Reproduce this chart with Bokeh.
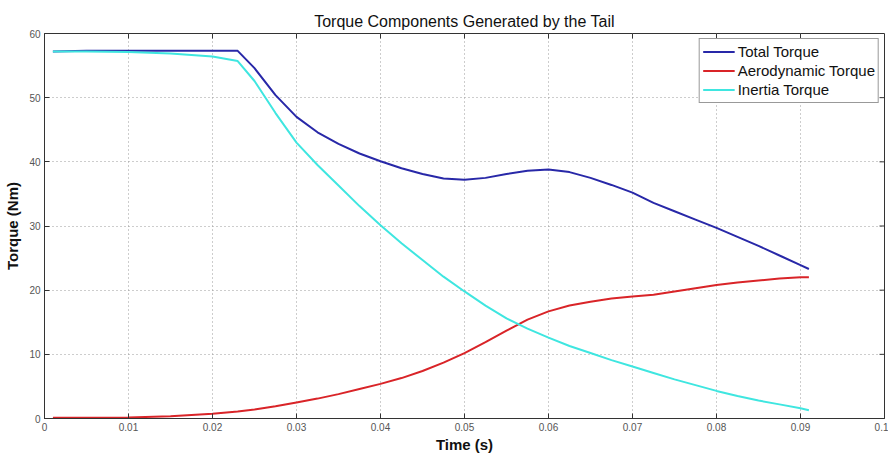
from bokeh.plotting import figure
from bokeh.models import FixedTicker, Legend, LegendItem, Title
from bokeh.embed import file_html
from bokeh.resources import INLINE

t = [0.001, 0.005, 0.01, 0.015, 0.02, 0.023, 0.025, 0.0275, 0.03, 0.0325, 0.035, 0.0375,
     0.04, 0.0425, 0.045, 0.0475, 0.05, 0.0525, 0.055, 0.0575, 0.06, 0.0625, 0.065, 0.0675,
     0.07, 0.0725, 0.075, 0.0775, 0.08, 0.0825, 0.085, 0.0875, 0.09, 0.091]
total_torque = [57.2, 57.3, 57.3, 57.3, 57.3, 57.3, 54.6, 50.4, 47.0, 44.6, 42.8, 41.3,
                40.1, 39.0, 38.1, 37.4, 37.2, 37.5, 38.1, 38.6, 38.8, 38.4, 37.5, 36.4,
                35.2, 33.6, 32.3, 31.0, 29.7, 28.3, 26.9, 25.4, 23.9, 23.3]
aero_torque = [0.1, 0.1, 0.15, 0.35, 0.75, 1.1, 1.4, 1.9, 2.5, 3.1, 3.8, 4.6,
               5.4, 6.3, 7.4, 8.7, 10.2, 11.9, 13.7, 15.4, 16.7, 17.6, 18.2, 18.7,
               19.0, 19.3, 19.8, 20.3, 20.8, 21.2, 21.5, 21.8, 22.0, 22.0]
inertia_torque = [57.2, 57.2, 57.1, 56.9, 56.4, 55.7, 52.6, 47.6, 43.0, 39.5, 36.3, 33.1,
                  30.1, 27.3, 24.7, 22.1, 19.8, 17.6, 15.6, 14.0, 12.6, 11.3, 10.2, 9.1,
                  8.1, 7.1, 6.1, 5.2, 4.3, 3.5, 2.8, 2.2, 1.6, 1.3]

x_ticks = [0, 0.01, 0.02, 0.03, 0.04, 0.05, 0.06, 0.07, 0.08, 0.09, 0.1]
x_tick_labels = ["0", "0.01", "0.02", "0.03", "0.04", "0.05", "0.06", "0.07", "0.08", "0.09", "0.1"]
y_ticks = [0, 10, 20, 30, 40, 50, 60]
series_names = ["Total Torque", "Aerodynamic Torque", "Inertia Torque"]

FONT = "Liberation Sans"
W, H = 888, 455
ML, MR, MT, MB = 44, 4, 33, 37
TICK_PX = 5

x_lo, x_hi = x_ticks[0], x_ticks[-1]
y_lo, y_hi = y_ticks[0], y_ticks[-1]

p = figure(width=W, height=H, x_range=(x_lo, x_hi), y_range=(y_lo, y_hi),
           output_backend="svg", toolbar_location=None,
           min_border_left=ML, min_border_right=MR, min_border_top=MT, min_border_bottom=MB)
p.title = Title(text="Torque Components Generated by the Tail", align="center",
                text_font=FONT, text_font_size="16px", text_font_style="normal",
                text_color="#111111", standoff=7)
p.background_fill_color = "white"
p.border_fill_color = "white"
p.outline_line_color = "#333333"
p.outline_line_width = 1

for ax in (p.xaxis[0], p.yaxis[0]):
    ax.major_tick_in = TICK_PX
    ax.major_tick_out = 0
    ax.minor_tick_in = 0
    ax.minor_tick_out = 0
    ax.axis_line_color = "#333333"
    ax.major_tick_line_color = "#333333"
    ax.major_label_text_font = FONT
    ax.major_label_text_font_size = "10px"
    ax.major_label_text_color = "#555555"
    ax.axis_label_text_font = FONT
    ax.axis_label_text_font_size = "15px"
    ax.axis_label_text_font_style = "bold"
    ax.axis_label_text_color = "#111111"

p.xaxis[0].ticker = FixedTicker(ticks=x_ticks)
p.xaxis[0].major_label_overrides = {v: s for v, s in zip(x_ticks, x_tick_labels)}
p.xaxis[0].axis_label = "Time (s)"
p.xaxis[0].axis_label_standoff = 2
p.xaxis[0].major_label_standoff = 4
p.yaxis[0].ticker = FixedTicker(ticks=y_ticks)
p.yaxis[0].axis_label = "Torque (Nm)"
p.yaxis[0].axis_label_standoff = 5
p.yaxis[0].major_label_standoff = 4

# top and right inward ticks (MATLAB box style)
frame_w = W - ML - MR
frame_h = H - MT - MB
dy = TICK_PX * (y_hi - y_lo) / frame_h
dx = TICK_PX * (x_hi - x_lo) / frame_w
inner_x = x_ticks[1:-1]
inner_y = y_ticks[1:-1]
p.segment(x0=inner_x, y0=[y_hi] * len(inner_x), x1=inner_x, y1=[y_hi - dy] * len(inner_x),
          line_color="#333333", line_width=1)
p.segment(x0=[x_hi] * len(inner_y), y0=inner_y, x1=[x_hi - dx] * len(inner_y), y1=inner_y,
          line_color="#333333", line_width=1)

p.xgrid.ticker = FixedTicker(ticks=x_ticks)
p.ygrid.ticker = FixedTicker(ticks=y_ticks)
for g in (p.xgrid[0], p.ygrid[0]):
    g.grid_line_color = "#9a9a9a"
    g.grid_line_dash = "1 3"
    g.grid_line_width = 1

r1 = p.line(t, total_torque, line_color="#2828A8", line_width=2)
r2 = p.line(t, aero_torque, line_color="#D92428", line_width=2)
r3 = p.line(t, inertia_torque, line_color="#3FE6E0", line_width=2)

legend = Legend(items=[LegendItem(label=series_names[0], renderers=[r1]),
                       LegendItem(label=series_names[1], renderers=[r2]),
                       LegendItem(label=series_names[2], renderers=[r3])],
                location="top_right", margin=5, padding=3, spacing=0,
                label_text_font=FONT, label_text_font_size="15px", label_text_color="#111111",
                label_height=19, glyph_height=19, glyph_width=32, label_standoff=3,
                border_line_color="#333333", border_line_width=1,
                background_fill_color="white", background_fill_alpha=1)
p.add_layout(legend, "center")

open("out.html", "w").write(file_html(p, INLINE))
